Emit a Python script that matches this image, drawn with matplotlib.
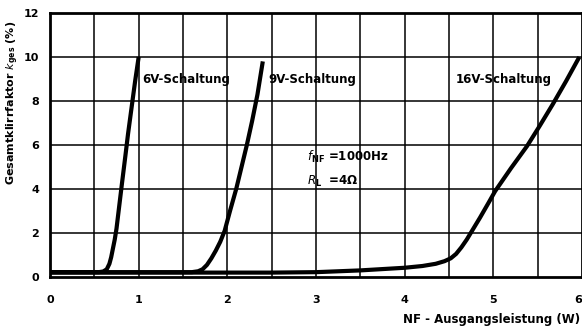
import matplotlib
matplotlib.use("Agg")
import matplotlib.pyplot as plt
import numpy as np

# Data
x_6v = [0.0, 0.55, 0.60, 0.64, 0.67, 0.69, 0.71, 0.73, 0.75, 0.78, 0.81, 0.85, 0.88, 0.92, 0.96, 1.0]
y_6v = [0.22, 0.22, 0.25, 0.35, 0.6, 0.9, 1.3, 1.7, 2.2, 3.2, 4.2, 5.5, 6.5, 7.7, 8.9, 10.0]

x_9v = [0.0, 1.6, 1.67, 1.72, 1.77, 1.82, 1.87, 1.92, 1.97, 2.03, 2.10, 2.16, 2.22, 2.28, 2.34, 2.40]
y_9v = [0.22, 0.22, 0.26, 0.35, 0.55, 0.85, 1.2, 1.6, 2.1, 3.0, 4.0, 5.0, 6.0, 7.1, 8.3, 9.8]

x_16v = [0.0, 2.5, 3.0, 3.5, 4.0, 4.2, 4.35, 4.45, 4.52, 4.58, 4.64, 4.70, 4.76, 4.85,
         4.95, 5.02, 5.20, 5.38, 5.52, 5.67, 5.82, 5.97]
y_16v = [0.2, 0.2, 0.22, 0.3, 0.42, 0.5, 0.6, 0.72, 0.85, 1.05, 1.35, 1.7, 2.1, 2.7,
         3.4, 3.9, 4.95, 5.95, 6.85, 7.85, 8.9, 10.0]

x_ticks = [0, 1, 2, 3, 4, 5, 6]
y_ticks = [0, 2, 4, 6, 8, 10, 12]

fig = plt.figure(figsize=(5.82, 3.28), dpi=100)
ax = fig.add_axes([50/582, 1-277/328, 532/582, 264/328])

ax.set_xlim(0, 6)
ax.set_ylim(0, 12)

for xv in np.arange(0.5, 6.0, 0.5):
    ax.axvline(xv, color='black', lw=1.1, zorder=1)
for yv in y_ticks[1:-1]:
    ax.axhline(yv, color='black', lw=1.1, zorder=1)

for xs, ys in [(x_6v, y_6v), (x_9v, y_9v), (x_16v, y_16v)]:
    ax.plot(xs, ys, color='black', lw=3, solid_capstyle='butt',
            solid_joinstyle='round', zorder=3)

for s in ax.spines.values():
    s.set_linewidth(2)
    s.set_color('black')

ax.set_xticks(x_ticks)
ax.set_yticks(y_ticks)
ax.tick_params(length=0, pad=8, labelsize=8)
ax.set_xticklabels([str(v) for v in x_ticks], fontweight='bold')
ax.set_yticklabels([str(v) for v in y_ticks], fontweight='bold')
ax.tick_params(axis='x', pad=13)
lbls = ax.get_xticklabels()
lbls[-1].set_horizontalalignment('right')

kw = dict(fontsize=8.5, fontweight='bold', family='DejaVu Sans', va='center')
ax.text(1.04, 9.0, '6V-Schaltung', **kw)
ax.text(2.46, 9.0, '9V-Schaltung', **kw)
ax.text(4.57, 9.0, '16V-Schaltung', **kw)
ax.text(2.9, 5.45, r'$f_{\mathbf{NF}}$ =1000Hz', **kw)
ax.text(2.9, 4.35, r'$R_{\mathbf{L}}$  =4Ω', **kw)

fig.text(13/582, 1-103/328, r'Gesamtklirrfaktor $k_{\mathbf{ges}}$ (%)', rotation=90,
         ha='center', va='center', fontsize=8, fontweight='bold')
fig.text(580/582, 1-320/328, 'NF - Ausgangsleistung (W)', ha='right', va='center',
         fontsize=8.5, fontweight='bold')

fig.savefig('out.png', dpi=100)
